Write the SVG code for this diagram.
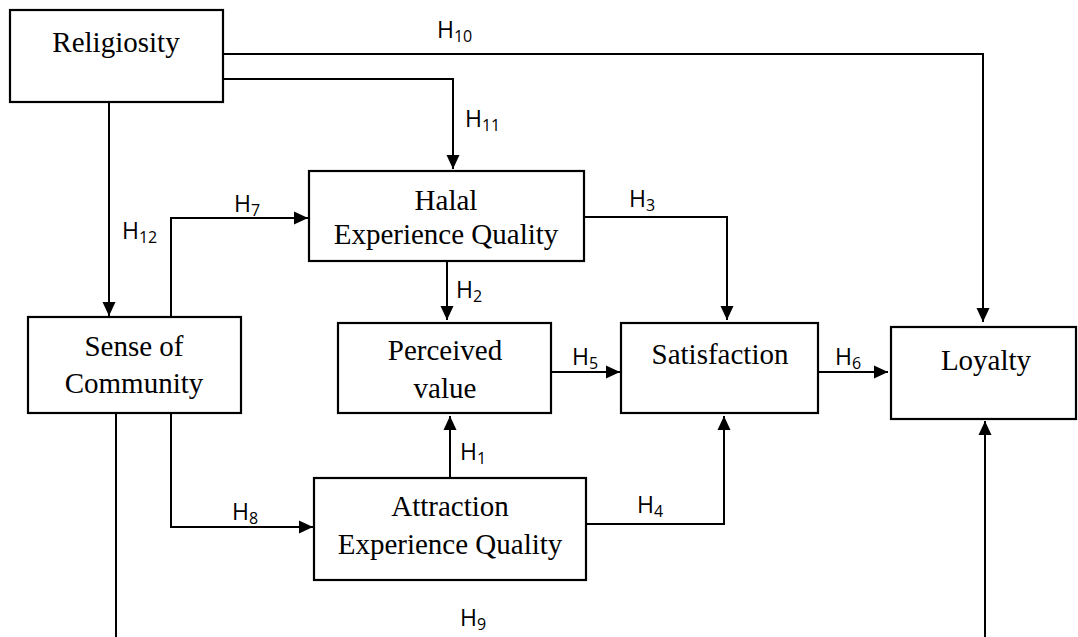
<svg xmlns="http://www.w3.org/2000/svg" width="1078" height="637" viewBox="0 0 1078 637">
<style>
.box{fill:#fff;stroke:#000;stroke-width:2.2}
.t{font-family:"Liberation Serif","Times New Roman",serif;font-size:29px;fill:#000;text-anchor:middle}
.c{fill:none;stroke:#000;stroke-width:2}
.h{font-family:"Open Sans","Lato",sans-serif;font-size:23px;fill:#000}
.s{font-size:16px}
</style>
<defs>
<marker id="a" markerUnits="userSpaceOnUse" markerWidth="14" markerHeight="14" refX="14" refY="7" orient="auto"><path d="M0,0.5 L14,7 L0,13.5 z" fill="#000"/></marker>
</defs>
<rect width="1078" height="637" fill="#fff"/>
<g id="connectors">
<path class="c" d="M223,54 H983 V322" marker-end="url(#a)"/>
<path class="c" d="M223,79 H453 V169" marker-end="url(#a)"/>
<path class="c" d="M109,102 V316" marker-end="url(#a)"/>
<path class="c" d="M171,317 V218 H308" marker-end="url(#a)"/>
<path class="c" d="M584,217 H727 V320" marker-end="url(#a)"/>
<path class="c" d="M447,261 V320" marker-end="url(#a)"/>
<path class="c" d="M551,372 H620" marker-end="url(#a)"/>
<path class="c" d="M818,372 H888" marker-end="url(#a)"/>
<path class="c" d="M450,477 V416" marker-end="url(#a)"/>
<path class="c" d="M586,524 H724 V416" marker-end="url(#a)"/>
<path class="c" d="M171,413 V527 H313" marker-end="url(#a)"/>
<path class="c" d="M116,413 V637"/>
<path class="c" d="M985,637 V421" marker-end="url(#a)"/>
<g id="labels">
<text class="h" x="437" y="38">H<tspan class="s" dy="4">10</tspan></text>
<text class="h" x="465" y="127">H<tspan class="s" dy="4">11</tspan></text>
<text class="h" x="122" y="239">H<tspan class="s" dy="4">12</tspan></text>
<text class="h" x="234" y="212">H<tspan class="s" dy="4">7</tspan></text>
<text class="h" x="629" y="207">H<tspan class="s" dy="4">3</tspan></text>
<text class="h" x="456" y="298">H<tspan class="s" dy="4">2</tspan></text>
<text class="h" x="572" y="365">H<tspan class="s" dy="4">5</tspan></text>
<text class="h" x="835" y="365">H<tspan class="s" dy="4">6</tspan></text>
<text class="h" x="460" y="460">H<tspan class="s" dy="4">1</tspan></text>
<text class="h" x="637" y="513">H<tspan class="s" dy="4">4</tspan></text>
<text class="h" x="232" y="520">H<tspan class="s" dy="4">8</tspan></text>
<text class="h" x="460" y="626">H<tspan class="s" dy="4">9</tspan></text>
</g>
</g>
<g id="religiosity"><rect class="box" x="10" y="10" width="213" height="92"/><text class="t" x="116" y="52">Religiosity</text></g>
<g id="halal"><rect class="box" x="309" y="171" width="275" height="90"/><text class="t" x="446" y="210">Halal</text><text class="t" x="446" y="244">Experience Quality</text></g>
<g id="sense"><rect class="box" x="28" y="317" width="213" height="96"/><text class="t" x="134" y="356">Sense of</text><text class="t" x="134" y="393">Community</text></g>
<g id="perceived"><rect class="box" x="338" y="323" width="213" height="90"/><text class="t" x="445" y="360">Perceived</text><text class="t" x="445" y="398">value</text></g>
<g id="satisfaction"><rect class="box" x="621" y="323" width="197" height="90"/><text class="t" x="720" y="364">Satisfaction</text></g>
<g id="loyalty"><rect class="box" x="891" y="327" width="185" height="92"/><text class="t" x="986" y="370">Loyalty</text></g>
<g id="attraction"><rect class="box" x="314" y="478" width="272" height="102"/><text class="t" x="450" y="516">Attraction</text><text class="t" x="450" y="554">Experience Quality</text></g>
</svg>
